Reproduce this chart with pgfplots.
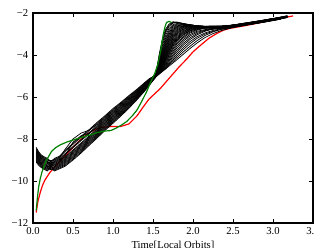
\documentclass[border=0pt]{standalone}
\usepackage{fontspec}
\setmainfont{Liberation Serif}
\usepackage{pgfplots}
\usepackage{pgfplotstable}
\pgfplotsset{compat=1.18}
\pgfplotstableread{
x c0 c1 c2 c3 c4 c5 c6 c7 c8 c9 c10 c11 c12 c13 c14 c15
0.04 -8.73 -8.96 -8.49 -9.10 -8.63 -8.87 -8.40 -9.01 -8.59 -8.82 -8.45 -9.05 -8.68 -8.91 -8.54 -8.77
0.07 -8.90 -9.12 -8.68 -9.25 -8.81 -9.03 -8.60 -9.16 -8.77 -8.99 -8.64 -9.20 -8.86 -9.07 -8.73 -8.94
0.10 -9.03 -9.23 -8.83 -9.35 -8.95 -9.15 -8.75 -9.27 -8.91 -9.11 -8.79 -9.31 -8.99 -9.19 -8.87 -9.07
0.14 -9.13 -9.33 -8.93 -9.45 -9.05 -9.25 -8.85 -9.37 -9.01 -9.21 -8.89 -9.41 -9.09 -9.29 -8.97 -9.17
0.18 -9.20 -9.40 -9.00 -9.52 -9.12 -9.32 -8.92 -9.44 -9.08 -9.28 -8.96 -9.48 -9.16 -9.36 -9.04 -9.24
0.22 -9.09 -9.21 -9.03 -9.31 -9.13 -9.25 -9.07 -9.35 -9.19 -9.31 -9.17 -9.45 -9.31 -9.43 -9.29 -9.41
0.27 -8.92 -8.96 -9.00 -9.04 -9.08 -9.12 -9.16 -9.20 -9.24 -9.28 -9.32 -9.36 -9.40 -9.44 -9.48 -9.52
0.33 -8.82 -8.86 -8.90 -8.94 -8.98 -9.02 -9.06 -9.10 -9.14 -9.18 -9.22 -9.26 -9.30 -9.34 -9.38 -9.42
0.40 -8.55 -8.60 -8.50 -8.70 -8.75 -8.80 -8.85 -8.90 -8.95 -9.00 -9.05 -9.10 -9.15 -9.20 -9.25 -9.30
0.50 -8.20 -8.25 -8.00 -8.36 -8.41 -8.15 -8.52 -8.57 -8.63 -8.68 -8.73 -8.79 -8.84 -8.89 -8.95 -9.00
0.60 -7.87 -7.92 -7.72 -8.03 -8.08 -7.85 -8.19 -8.24 -8.30 -8.35 -8.40 -8.46 -8.51 -8.56 -8.62 -8.67
0.70 -7.56 -7.61 -7.58 -7.71 -7.76 -7.72 -7.86 -7.91 -7.96 -8.01 -8.06 -8.11 -8.16 -8.21 -8.26 -8.31
0.80 -7.21 -7.26 -7.31 -7.36 -7.41 -7.46 -7.51 -7.56 -7.61 -7.66 -7.71 -7.76 -7.81 -7.86 -7.91 -7.96
0.90 -6.89 -6.94 -6.98 -7.03 -7.08 -7.12 -7.17 -7.22 -7.26 -7.31 -7.36 -7.40 -7.45 -7.50 -7.54 -7.59
1.00 -6.55 -6.60 -6.64 -6.69 -6.74 -6.78 -6.83 -6.88 -6.92 -6.97 -7.02 -7.06 -7.11 -7.16 -7.20 -7.25
1.10 -6.25 -6.29 -6.33 -6.38 -6.42 -6.46 -6.51 -6.55 -6.59 -6.64 -6.68 -6.72 -6.77 -6.81 -6.85 -6.90
1.20 -5.93 -5.97 -6.01 -6.05 -6.09 -6.13 -6.17 -6.21 -6.25 -6.29 -6.33 -6.37 -6.41 -6.45 -6.49 -6.53
1.30 -5.63 -5.66 -5.70 -5.73 -5.76 -5.80 -5.83 -5.86 -5.90 -5.93 -5.96 -6.00 -6.03 -6.06 -6.10 -6.13
1.40 -5.30 -5.33 -5.35 -5.38 -5.41 -5.43 -5.46 -5.49 -5.51 -5.54 -5.57 -5.59 -5.62 -5.65 -5.67 -5.70
1.45 -5.14 -5.16 -5.18 -5.20 -5.23 -5.25 -5.27 -5.29 -5.31 -5.33 -5.35 -5.38 -5.40 -5.42 -5.44 -5.46
1.50 -5.03 -5.04 -5.05 -5.07 -5.08 -5.09 -5.10 -5.11 -5.13 -5.14 -5.15 -5.16 -5.17 -5.19 -5.20 -5.21
1.54 -4.82 -4.87 -4.91 -4.94 -4.96 -4.97 -4.98 -4.99 -4.99 -5.00 -5.00 -5.01 -5.01 -5.01 -5.02 -5.02
1.58 -3.92 -4.09 -4.28 -4.41 -4.50 -4.56 -4.62 -4.67 -4.71 -4.75 -4.77 -4.80 -4.84 -4.86 -4.88 -4.90
1.62 -3.19 -3.39 -3.65 -3.84 -3.98 -4.09 -4.19 -4.28 -4.36 -4.43 -4.49 -4.56 -4.63 -4.69 -4.74 -4.78
1.66 -2.76 -2.92 -3.17 -3.36 -3.52 -3.66 -3.79 -3.90 -4.01 -4.11 -4.19 -4.29 -4.40 -4.50 -4.59 -4.66
1.70 -2.53 -2.64 -2.84 -3.01 -3.15 -3.30 -3.43 -3.56 -3.68 -3.79 -3.90 -4.03 -4.17 -4.30 -4.43 -4.53
1.75 -2.42 -2.48 -2.61 -2.73 -2.85 -2.97 -3.09 -3.22 -3.35 -3.46 -3.58 -3.73 -3.90 -4.07 -4.24 -4.38
1.80 -2.43 -2.46 -2.53 -2.61 -2.69 -2.79 -2.89 -2.99 -3.11 -3.22 -3.33 -3.48 -3.66 -3.85 -4.04 -4.22
1.88 -2.50 -2.51 -2.54 -2.57 -2.62 -2.66 -2.72 -2.79 -2.88 -2.96 -3.05 -3.18 -3.34 -3.53 -3.74 -3.96
1.96 -2.56 -2.56 -2.57 -2.58 -2.60 -2.62 -2.66 -2.70 -2.75 -2.81 -2.86 -2.96 -3.10 -3.27 -3.47 -3.70
2.05 -2.61 -2.61 -2.61 -2.62 -2.62 -2.63 -2.65 -2.66 -2.69 -2.72 -2.76 -2.82 -2.92 -3.04 -3.21 -3.43
2.15 -2.64 -2.66 -2.63 -2.67 -2.65 -2.64 -2.68 -2.66 -2.71 -2.68 -2.72 -2.72 -2.82 -2.87 -3.00 -3.17
2.25 -2.64 -2.69 -2.62 -2.71 -2.66 -2.63 -2.70 -2.65 -2.73 -2.65 -2.70 -2.66 -2.77 -2.76 -2.87 -2.98
2.35 -2.64 -2.69 -2.62 -2.71 -2.66 -2.63 -2.70 -2.65 -2.72 -2.64 -2.69 -2.63 -2.73 -2.70 -2.78 -2.84
2.45 -2.61 -2.66 -2.59 -2.68 -2.63 -2.60 -2.67 -2.62 -2.69 -2.61 -2.65 -2.60 -2.68 -2.64 -2.71 -2.74
2.55 -2.56 -2.61 -2.54 -2.63 -2.58 -2.55 -2.62 -2.57 -2.64 -2.56 -2.60 -2.54 -2.62 -2.58 -2.64 -2.66
2.70 -2.47 -2.52 -2.45 -2.54 -2.49 -2.46 -2.53 -2.48 -2.55 -2.47 -2.51 -2.45 -2.53 -2.48 -2.54 -2.55
2.85 -2.38 -2.43 -2.36 -2.45 -2.40 -2.37 -2.44 -2.39 -2.46 -2.38 -2.42 -2.36 -2.44 -2.39 -2.44 -2.44
3.00 -2.28 -2.33 -2.26 -2.35 -2.30 -2.27 -2.34 -2.29 -2.36 -2.28 -2.32 -2.26 -2.34 -2.29 -2.33 -2.34
3.10 -2.21 -2.26 -2.19 nan -2.23 -2.20 -2.27 -2.22 -2.29 -2.21 -2.25 nan -2.27 -2.22 -2.26 -2.27
3.18 -2.15 nan -2.13 nan -2.17 nan -2.21 -2.16 nan -2.15 nan nan -2.21 -2.16 nan -2.21
}\blackdata
\pgfplotstableread{
x m0 m1 m2 m3 m4 m5 m6 m7 m8 m9 m10 m11 m12 m13 m14
1.45 -5.15 -5.17 -5.19 -5.22 -5.24 -5.26 -5.28 -5.30 -5.32 -5.34 -5.37 -5.39 -5.41 -5.43 -5.45
1.50 -5.04 -5.05 -5.06 -5.08 -5.09 -5.10 -5.11 -5.12 -5.14 -5.15 -5.16 -5.17 -5.18 -5.20 -5.21
1.54 -4.85 -4.89 -4.93 -4.95 -4.97 -4.98 -4.99 -4.99 -5.00 -5.00 -5.01 -5.01 -5.01 -5.02 -5.02
1.58 -4.00 -4.19 -4.35 -4.46 -4.53 -4.59 -4.65 -4.69 -4.73 -4.76 -4.79 -4.82 -4.85 -4.87 -4.89
1.62 -3.29 -3.52 -3.75 -3.91 -4.04 -4.14 -4.24 -4.32 -4.40 -4.46 -4.53 -4.60 -4.66 -4.72 -4.76
1.66 -2.84 -3.05 -3.27 -3.44 -3.59 -3.73 -3.85 -3.96 -4.06 -4.15 -4.24 -4.35 -4.45 -4.55 -4.63
1.70 -2.59 -2.74 -2.93 -3.08 -3.23 -3.37 -3.50 -3.62 -3.74 -3.85 -3.97 -4.10 -4.24 -4.37 -4.48
1.75 -2.45 -2.55 -2.67 -2.79 -2.91 -3.03 -3.16 -3.29 -3.41 -3.52 -3.66 -3.82 -3.99 -4.16 -4.31
1.80 -2.45 -2.50 -2.57 -2.65 -2.74 -2.84 -2.94 -3.05 -3.17 -3.28 -3.41 -3.57 -3.76 -3.95 -4.13
1.88 -2.51 -2.53 -2.56 -2.60 -2.64 -2.69 -2.76 -2.84 -2.92 -3.01 -3.12 -3.26 -3.44 -3.64 -3.85
1.96 -2.56 -2.57 -2.58 -2.59 -2.61 -2.64 -2.68 -2.73 -2.78 -2.84 -2.91 -3.03 -3.19 -3.37 -3.59
2.05 -2.61 -2.61 -2.62 -2.62 -2.63 -2.64 -2.66 -2.68 -2.71 -2.74 -2.79 -2.87 -2.98 -3.13 -3.32
2.15 -2.67 -2.63 -2.66 -2.64 -2.68 -2.65 -2.67 -2.71 -2.67 -2.71 -2.72 -2.79 -2.84 -2.95 -3.07
2.25 -2.70 -2.63 -2.68 -2.64 -2.71 -2.65 -2.67 -2.73 -2.64 -2.71 -2.67 -2.76 -2.75 -2.83 -2.90
2.35 -2.70 -2.63 -2.68 -2.64 -2.71 -2.65 -2.67 -2.72 -2.63 -2.69 -2.65 -2.72 -2.70 -2.75 -2.78
2.45 -2.67 -2.60 -2.65 -2.61 -2.68 -2.62 -2.64 -2.69 -2.60 -2.66 -2.61 -2.67 -2.64 -2.69 -2.70
2.55 -2.62 -2.55 -2.60 -2.56 -2.63 -2.57 -2.59 -2.64 -2.55 -2.61 -2.56 -2.62 -2.58 -2.62 -2.62
2.70 -2.53 -2.46 -2.51 -2.47 -2.54 -2.48 -2.50 -2.55 -2.46 -2.52 -2.47 -2.53 -2.49 -2.51 -2.51
2.85 -2.44 -2.37 -2.42 -2.38 -2.45 -2.39 -2.41 -2.46 -2.37 -2.43 -2.38 -2.44 -2.40 -2.42 -2.41
3.00 -2.34 -2.27 -2.32 -2.28 -2.35 -2.29 -2.31 -2.36 -2.27 -2.33 -2.28 -2.34 -2.30 -2.32 -2.31
3.10 -2.27 -2.20 nan -2.21 -2.28 nan -2.24 -2.29 -2.20 nan -2.21 -2.27 -2.23 nan -2.24
3.18 nan -2.14 nan -2.15 nan nan -2.18 nan -2.14 nan nan -2.21 -2.17 nan nan
}\fandata
\pgfplotstableread{
x y
0.04 -11.50
0.06 -11.00
0.09 -10.55
0.12 -10.20
0.15 -9.95
0.21 -9.60
0.30 -9.20
0.40 -8.80
0.50 -8.40
0.60 -8.00
0.68 -7.75
0.75 -7.60
0.85 -7.45
0.96 -7.41
1.10 -7.40
1.20 -7.28
1.30 -6.90
1.38 -6.46
1.45 -6.10
1.52 -5.85
1.59 -5.60
1.67 -5.25
1.75 -4.90
1.83 -4.55
1.92 -4.20
2.00 -3.85
2.09 -3.55
2.20 -3.20
2.30 -2.97
2.38 -2.82
2.46 -2.73
2.63 -2.62
2.80 -2.49
3.00 -2.33
3.10 -2.25
3.25 -2.14
}\reddata
\pgfplotstableread{
x y
0.04 -11.40
0.055 -10.80
0.07 -10.30
0.09 -9.90
0.11 -9.60
0.14 -9.25
0.17 -9.00
0.20 -8.80
0.23 -8.60
0.28 -8.42
0.34 -8.28
0.42 -8.15
0.50 -8.05
0.60 -7.93
0.71 -7.81
0.80 -7.70
0.90 -7.62
0.97 -7.60
1.03 -7.50
1.10 -7.35
1.17 -7.17
1.24 -6.90
1.30 -6.62
1.36 -6.20
1.42 -5.75
1.47 -5.30
1.52 -4.90
1.56 -4.45
1.59 -3.90
1.61 -3.45
1.63 -3.00
1.65 -2.65
1.67 -2.45
1.70 -2.40
1.73 -2.45
}\greendata
\definecolor{mplgreen}{rgb}{0,0.5,0}
\begin{document}
\begin{tikzpicture}
\begin{axis}[name=ax, at={(0,0)}, anchor=south west,
  scale only axis, width=210pt, height=157.5pt,
  xmin=0, xmax=3.5, ymin=-12, ymax=-2,
  xtick={0,0.5,1,1.5,2,2.5,3,3.5},
  xticklabels={0.0,0.5,1.0,1.5,2.0,2.5,3.0,3.5},
  ytick={-12,-10,-8,-6,-4,-2},
  yticklabels={−12,−10,−8,−6,−4,−2},
  tick align=inside, tick pos=both, major tick length=3pt,
  axis line style={line width=0.8pt},
  every tick/.style={black, line width=0.6pt},
  ticklabel style={font=\fontsize{8}{9}\selectfont},
  label style={font=\fontsize{8}{9}\selectfont},
  xlabel={Time[Local Orbits]},
  ylabel={Log[Magnetic Energy]},
  xlabel style={at={(axis description cs:0.5,-0.1206)}, anchor=base},
  ylabel style={at={(axis description cs:-0.1267,0.5)}, anchor=base},
]
\addplot[red, line width=0.9pt] table[x=x, y=y] {\reddata};
\pgfplotsinvokeforeach{0,...,15}{
  \addplot[black, line width=0.55pt] table[x=x, y=c#1] {\blackdata};
}
\pgfplotsinvokeforeach{0,...,14}{
  \addplot[black, line width=0.55pt] table[x=x, y=m#1] {\fandata};
}
\addplot[mplgreen, line width=0.9pt] table[x=x, y=y] {\greendata};
\end{axis}
\pgfresetboundingbox
\path[use as bounding box] (-24.75pt,-18pt) rectangle (210.75pt,167.25pt);
\end{tikzpicture}
\end{document}
